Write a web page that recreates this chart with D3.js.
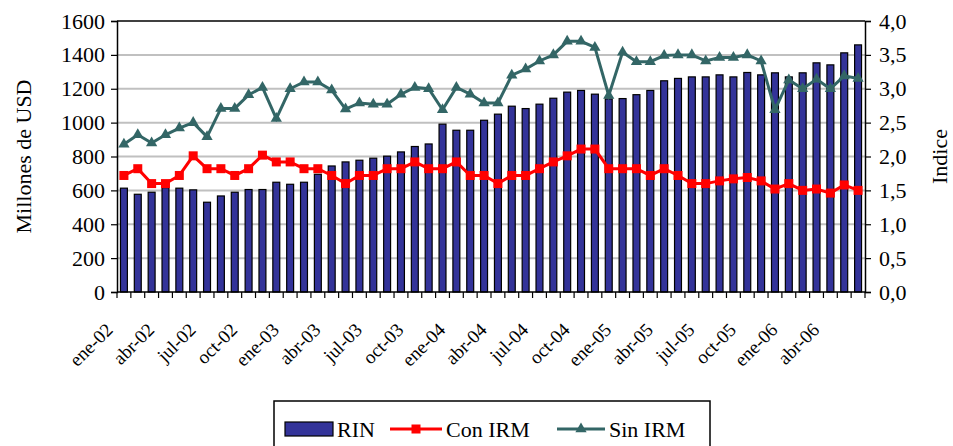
<!DOCTYPE html>
<html>
<head>
<meta charset="utf-8">
<script src="https://cdn.jsdelivr.net/npm/d3@7"></script>
<style>
  body { margin: 0; background: #fff; }
  text { font-family: 'Liberation Serif', 'Times New Roman', Tinos, 'DejaVu Serif', serif; }
</style>
</head>
<body>
<svg id="chart" width="953" height="446"></svg>
<script>
// monthly categories, ene-02 .. jun-06
const months = [
  'ene-02','feb-02','mar-02','abr-02','may-02','jun-02','jul-02','ago-02','sep-02','oct-02','nov-02','dic-02',
  'ene-03','feb-03','mar-03','abr-03','may-03','jun-03','jul-03','ago-03','sep-03','oct-03','nov-03','dic-03',
  'ene-04','feb-04','mar-04','abr-04','may-04','jun-04','jul-04','ago-04','sep-04','oct-04','nov-04','dic-04',
  'ene-05','feb-05','mar-05','abr-05','may-05','jun-05','jul-05','ago-05','sep-05','oct-05','nov-05','dic-05',
  'ene-06','feb-06','mar-06','abr-06','may-06','jun-06'
];

// RIN, millones de USD
const rin = [
  613, 577, 589, 616, 613, 603, 530, 567, 589, 605, 605, 648,
  636, 648, 695, 744, 768, 778, 790, 802, 827, 859, 874, 991,
  955, 955, 1014, 1050, 1097, 1083, 1109, 1144, 1180, 1190, 1168, 1140,
  1142, 1165, 1190, 1247, 1261, 1270, 1270, 1282, 1270, 1296, 1282, 1294,
  1270, 1294, 1353, 1341, 1412, 1459
];

// indice con IRM
const conIrm = [
  1.72, 1.82, 1.60, 1.60, 1.72, 2.01, 1.82, 1.82, 1.72, 1.82, 2.02, 1.92,
  1.92, 1.82, 1.82, 1.72, 1.60, 1.72, 1.72, 1.82, 1.82, 1.92, 1.82, 1.82,
  1.92, 1.72, 1.72, 1.60, 1.72, 1.72, 1.82, 1.92, 2.01, 2.11, 2.11, 1.82,
  1.82, 1.82, 1.72, 1.82, 1.72, 1.60, 1.60, 1.64, 1.67, 1.69, 1.64, 1.52,
  1.60, 1.50, 1.52, 1.46, 1.58, 1.50
];

// indice sin IRM
const sinIrm = [
  2.18, 2.32, 2.20, 2.32, 2.42, 2.50, 2.29, 2.71, 2.71, 2.91, 3.02, 2.56,
  3.00, 3.10, 3.10, 2.98, 2.70, 2.79, 2.77, 2.77, 2.92, 3.02, 3.00, 2.69,
  3.02, 2.92, 2.79, 2.79, 3.20, 3.29, 3.41, 3.50, 3.70, 3.70, 3.61, 2.90,
  3.54, 3.40, 3.40, 3.49, 3.50, 3.50, 3.41, 3.46, 3.46, 3.50, 3.41, 2.69,
  3.13, 3.00, 3.14, 3.00, 3.19, 3.15
];

const leftTicks = [0, 200, 400, 600, 800, 1000, 1200, 1400, 1600];
const rightTicks = [0, 0.5, 1, 1.5, 2, 2.5, 3, 3.5, 4];

const FONT = "'Liberation Serif', 'Times New Roman', Tinos, 'DejaVu Serif', serif";

const margin = { top: 21, right: 88, bottom: 154, left: 117 };
const width = 953 - margin.left - margin.right;
const height = 446 - margin.top - margin.bottom;

const svg = d3.select('#chart');
const g = svg.append('g')
  .attr('transform', `translate(${margin.left},${margin.top})`);

const x = d3.scaleBand()
  .domain(months)
  .range([0, width])
  .paddingInner(0.5)
  .paddingOuter(0.25);

const y = d3.scaleLinear().domain([0, 1600]).range([height, 0]);
const y2 = d3.scaleLinear().domain([0, 4]).range([height, 0]);

// gridlines
g.append('g')
  .selectAll('line')
  .data(leftTicks.slice(1, -1))
  .enter()
  .append('line')
  .attr('x1', 0)
  .attr('x2', width)
  .attr('y1', d => y(d))
  .attr('y2', d => y(d))
  .attr('stroke', '#c0c0c0')
  .attr('stroke-width', 2);

// bars
g.selectAll('.bar')
  .data(rin)
  .enter()
  .append('rect')
  .attr('class', 'bar')
  .attr('x', (d, i) => x(months[i]))
  .attr('y', d => y(d))
  .attr('width', x.bandwidth())
  .attr('height', d => height - y(d))
  .attr('fill', '#333399')
  .attr('stroke', '#000')
  .attr('stroke-width', 1.2);

// plot border top
g.append('line')
  .attr('x1', 0).attr('x2', width)
  .attr('y1', 0).attr('y2', 0)
  .attr('stroke', '#000').attr('stroke-width', 1.5);

const cx = (i) => x(months[i]) + x.bandwidth() / 2;

// Con IRM
g.append('path')
  .datum(conIrm)
  .attr('fill', 'none')
  .attr('stroke', '#ff0000')
  .attr('stroke-width', 3)
  .attr('d', d3.line().x((d, i) => cx(i)).y(d => y2(d)));

g.selectAll('.sq')
  .data(conIrm)
  .enter()
  .append('rect')
  .attr('class', 'sq')
  .attr('x', (d, i) => cx(i) - 4.5)
  .attr('y', d => y2(d) - 4.5)
  .attr('width', 9)
  .attr('height', 9)
  .attr('fill', '#ff0000');

// Sin IRM
g.append('path')
  .datum(sinIrm)
  .attr('fill', 'none')
  .attr('stroke', '#336666')
  .attr('stroke-width', 3)
  .attr('d', d3.line().x((d, i) => cx(i)).y(d => y2(d)));

const tri = d3.symbol().type(d3.symbolTriangle).size(55);
g.selectAll('.tri')
  .data(sinIrm)
  .enter()
  .append('path')
  .attr('class', 'tri')
  .attr('d', tri)
  .attr('transform', (d, i) => `translate(${cx(i)},${y2(d)})`)
  .attr('fill', '#336666');

// left axis
const leftAxis = g.append('g')
  .call(d3.axisLeft(y).tickValues(leftTicks).tickSize(6).tickPadding(6).tickFormat(d3.format('d')));

// right axis
const rightAxis = g.append('g')
  .attr('transform', `translate(${width},0)`)
  .call(d3.axisRight(y2).tickValues(rightTicks).tickSize(6).tickPadding(8)
    .tickFormat(d => d.toFixed(1).replace('.', ',')));

// bottom axis, ticks at category boundaries
const bottom = g.append('g').attr('transform', `translate(0,${height})`);
bottom.append('line')
  .attr('x1', 0).attr('x2', width)
  .attr('stroke', '#000').attr('stroke-width', 1.5);
bottom.selectAll('.tk')
  .data(months.concat(['end']))
  .enter()
  .append('line')
  .attr('class', 'tk')
  .attr('x1', (d, i) => i * x.step())
  .attr('x2', (d, i) => i * x.step())
  .attr('y1', 0)
  .attr('y2', 6)
  .attr('stroke', '#000')
  .attr('stroke-width', 1.2);

bottom.selectAll('.lbl')
  .data(months.filter((d, i) => i % 3 === 0))
  .enter()
  .append('text')
  .attr('class', 'lbl')
  .attr('transform', d => `translate(${cx(months.indexOf(d)) - 10},${39}) rotate(-45)`)
  .attr('text-anchor', 'end')
  .attr('font-family', FONT)
  .attr('font-size', 19)
  .text(d => d);

[leftAxis, rightAxis].forEach(a => {
  a.attr('font-family', FONT);
  a.select('.domain').attr('stroke', '#000').attr('stroke-width', 1.5);
  a.selectAll('.tick line').attr('stroke', '#000').attr('stroke-width', 1.2);
  a.selectAll('text')
    .attr('font-family', FONT)
    .attr('font-size', 22)
    .attr('fill', '#000');
});

// axis titles
svg.append('text')
  .attr('transform', `translate(31,${margin.top + height / 2}) rotate(-90)`)
  .attr('text-anchor', 'middle')
  .attr('font-family', FONT)
  .attr('font-size', 22)
  .text('Millones de USD');

svg.append('text')
  .attr('transform', `translate(947,${margin.top + height / 2}) rotate(-90)`)
  .attr('text-anchor', 'middle')
  .attr('font-family', FONT)
  .attr('font-size', 22)
  .text('Indice');

// legend
const legend = svg.append('g')
  .attr('transform', 'translate(274,401)')
  .attr('font-family', FONT);
legend.append('rect')
  .attr('width', 436).attr('height', 50)
  .attr('fill', '#fff').attr('stroke', '#000').attr('stroke-width', 1.5);

legend.append('rect')
  .attr('x', 11).attr('y', 21).attr('width', 48).attr('height', 14)
  .attr('fill', '#333399').attr('stroke', '#000').attr('stroke-width', 1.2);
legend.append('text').attr('x', 63).attr('y', 36).attr('font-size', 22).text('RIN');

legend.append('line')
  .attr('x1', 116).attr('x2', 168).attr('y1', 28).attr('y2', 28)
  .attr('stroke', '#ff0000').attr('stroke-width', 3);
legend.append('rect')
  .attr('x', 137.5).attr('y', 23.5).attr('width', 9).attr('height', 9)
  .attr('fill', '#ff0000');
legend.append('text').attr('x', 172).attr('y', 36).attr('font-size', 22).text('Con IRM');

legend.append('line')
  .attr('x1', 283).attr('x2', 331).attr('y1', 28).attr('y2', 28)
  .attr('stroke', '#336666').attr('stroke-width', 3);
legend.append('path')
  .attr('d', tri)
  .attr('transform', 'translate(307,28)')
  .attr('fill', '#336666');
legend.append('text').attr('x', 335).attr('y', 36).attr('font-size', 22).text('Sin IRM');
</script>
</body>
</html>
